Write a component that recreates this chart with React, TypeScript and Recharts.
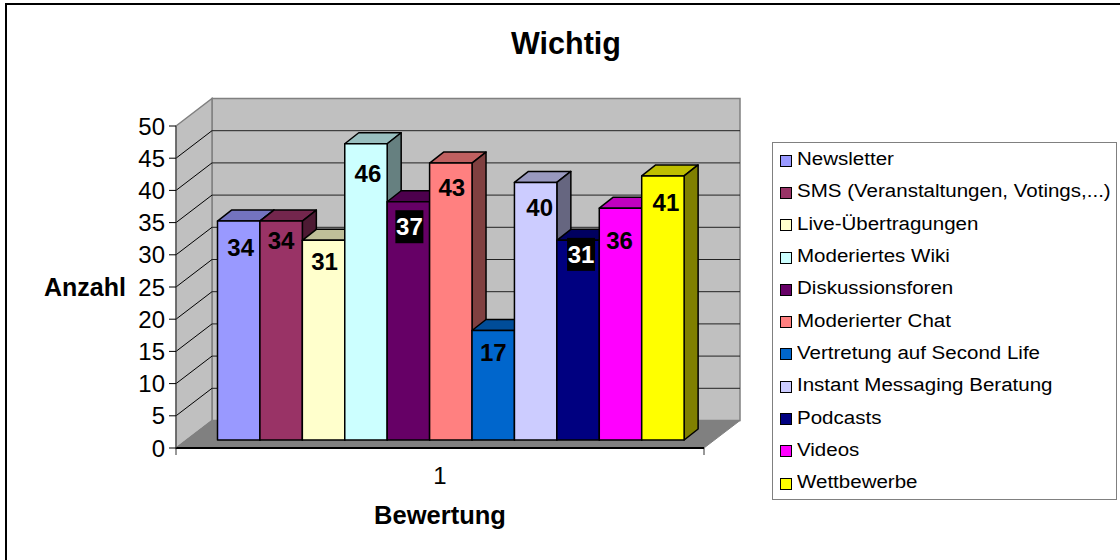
import { BarChart, Bar, XAxis, YAxis, CartesianGrid, Legend, LabelList, Label, ReferenceArea } from "recharts";

const categories = ["1"];
const seriesNames = [
  "Newsletter",
  "SMS (Veranstaltungen, Votings,...)",
  "Live-Übertragungen",
  "Moderiertes Wiki",
  "Diskussionsforen",
  "Moderierter Chat",
  "Vertretung auf Second Life",
  "Instant Messaging Beratung",
  "Podcasts",
  "Videos",
  "Wettbewerbe",
];
const seriesValues = [34, 34, 31, 46, 37, 43, 17, 40, 31, 36, 41];
const seriesColors = ["#9999FF", "#993366", "#FFFFCC", "#CCFFFF", "#660066", "#FF8080", "#0066CC", "#CCCCFF", "#000080", "#FF00FF", "#FFFF00"];
const yTicks = [0, 5, 10, 15, 20, 25, 30, 35, 40, 45, 50];

// Excel puts the labels a bit off centre, [dx, dy from bar top] per bar
const labelNudge = [
  [2, 26], [0, 19], [1, 21], [2, 30], [1, 25], [1, 24], [0, 22], [4, 25], [3, 14], [-1, 32], [3, 26],
];

const tableData = categories.map((name) => {
  const row: Record<string, any> = { name };
  seriesNames.forEach((s, i) => (row[s] = seriesValues[i]));
  return row;
});

const FONT = "'Liberation Sans', Arial, sans-serif";
const WALL = "#C0C0C0";
const FLOOR = "#808080";
const EDGE = "#808080";

// depth of the whole box, and where the bars sit inside it
const BOX_DX = 36;
const BOX_DY = -27.5;
const BAR_SHIFT_X = 10.5;
const BAR_SHIFT_Y = -8;
const BAR_DX = 14;
const BAR_DY = -11;

const shade = (hex: string, k: number) => {
  const n = parseInt(hex.slice(1), 16);
  const c = [(n >> 16) & 255, (n >> 8) & 255, n & 255].map((v) => Math.round(v * k));
  return `rgb(${c[0]},${c[1]},${c[2]})`;
};

const pts = (list: number[][]) => list.map((p) => p.join(",")).join(" ");

function Walls({ x, y, width, height }: any) {
  const b = y + height;
  const r = x + width;
  return (
    <g>
      <polygon points={pts([[x + BOX_DX, y + BOX_DY], [r + BOX_DX, y + BOX_DY], [r + BOX_DX, b + BOX_DY], [x + BOX_DX, b + BOX_DY]])} fill={WALL} stroke={EDGE} strokeWidth={1.5} />
      <polygon points={pts([[x, y], [x + BOX_DX, y + BOX_DY], [x + BOX_DX, b + BOX_DY], [x, b]])} fill={WALL} stroke={EDGE} strokeWidth={1.5} />
      <polygon points={pts([[x, b], [r, b], [r + BOX_DX, b + BOX_DY], [x + BOX_DX, b + BOX_DY]])} fill={FLOOR} stroke={EDGE} />
      <line x1={r} y1={b} x2={r} y2={b + 7} stroke="#333" />
      <line x1={x} y1={b} x2={x} y2={b + 7} stroke="#333" />
    </g>
  );
}

function GridLine({ x1, x2, y1 }: any) {
  if (y1 > 440 || y1 < 130) return <g />;
  return (
    <g>
      <line x1={x1} y1={y1} x2={x1 + BOX_DX} y2={y1 + BOX_DY} stroke="#000" />
      <line x1={x1 + BOX_DX} y1={y1 + BOX_DY} x2={x2 + BOX_DX} y2={y1 + BOX_DY} stroke="#222" />
    </g>
  );
}

function Bar3D({ x, y, width, height, fill }: any) {
  const l = x + BAR_SHIFT_X;
  const t = y + BAR_SHIFT_Y;
  const r = l + width;
  const b = t + height;
  return (
    <g stroke="#000" strokeWidth={1.5} strokeLinejoin="round">
      <polygon points={pts([[l, t], [l + BAR_DX, t + BAR_DY], [r + BAR_DX, t + BAR_DY], [r, t]])} fill={shade(fill, 0.75)} />
      <polygon points={pts([[r, t], [r + BAR_DX, t + BAR_DY], [r + BAR_DX, b + BAR_DY], [r, b]])} fill={shade(fill, 0.5)} />
      <rect x={l} y={t} width={width} height={height} fill={fill} />
    </g>
  );
}

const makeLabel = (i: number) => (props: any) => {
  const { x, y, width, value } = props;
  const cx = x + BAR_SHIFT_X + width / 2 + labelNudge[i][0];
  const cy = y + BAR_SHIFT_Y + labelNudge[i][1];
  const dark = i === 4 || i === 8;
  return (
    <g>
      {dark && <rect x={cx - 14} y={cy - 16.5} width={28} height={33} fill="#000" />}
      <text x={cx} y={cy} dy="0.36em" textAnchor="middle" fontFamily={FONT} fontWeight="bold" fontSize={24} fill={dark ? "#fff" : "#000"}>
        {value}
      </text>
    </g>
  );
};

function LegendBox({ payload }: any) {
  return (
    <div style={{ boxSizing: "border-box", width: 345, height: 358, border: "1.5px solid #808080", background: "#fff", padding: "0 0 0 7px", fontFamily: FONT, fontSize: 18, color: "#000" }}>
      {payload.map((p: any) => (
        <div key={p.value} style={{ height: 32.3, display: "flex", alignItems: "center", position: "relative", top: 0.5 }}>
          <span style={{ boxSizing: "border-box", width: 12, height: 12, border: "1.5px solid #000", background: p.color, marginRight: 5, position: "relative", top: 1 }} />
          {/* the original text is drawn wider than plain Arial */}
          <span style={{ whiteSpace: "nowrap", transform: "scaleX(1.14)", transformOrigin: "left center" }}>{p.value}</span>
        </div>
      ))}
    </div>
  );
}

export default function App() {
  return (
    <div style={{ position: "absolute", left: 0, top: 0, width: 1120, height: 560, overflow: "hidden", background: "#fff" }}>
      <div style={{ position: "absolute", left: 5, top: 3, width: 1200, height: 600, borderTop: "2px solid #000", borderLeft: "2px solid #000" }} />
      <BarChart
        width={1120}
        height={560}
        data={tableData}
        margin={{ top: 126, right: 416, bottom: 0, left: 0 }}
        barSize={42.42}
        barGap={0}
        style={{ position: "absolute", left: 0, top: 0 }}
      >
        <text x={566} y={54} textAnchor="middle" fontFamily={FONT} fontWeight="bold" fontSize={30.5}>Wichtig</text>
        <ReferenceArea y1={0} y2={50} ifOverflow="extendDomain" shape={Walls} zIndex={-150} />
        <CartesianGrid vertical={false} horizontal={GridLine} />
        <XAxis
          dataKey="name"
          height={112}
          axisLine={{ stroke: "#000", strokeWidth: 2 }}
          tickLine={false}
          tickMargin={13}
          tick={{ fontFamily: FONT, fontSize: 24, fill: "#000" }}
        >
          <Label value="Bewertung" position="insideBottom" offset={36} style={{ fontFamily: FONT, fontWeight: "bold", fontSize: 25.5, fill: "#000" }} />
        </XAxis>
        <YAxis
          width={176}
          domain={[0, 50]}
          ticks={yTicks}
          interval={0}
          axisLine={{ stroke: "#444" }}
          tickLine={{ stroke: "#000" }}
          tickSize={7}
          tickMargin={4}
          tick={{ fontFamily: FONT, fontSize: 24, fill: "#000" }}
        >
          <Label value="Anzahl" position="insideLeft" offset={44} style={{ fontFamily: FONT, fontWeight: "bold", fontSize: 25, fill: "#000" }} />
        </YAxis>
        {seriesNames.map((s, i) => (
          <Bar key={s} dataKey={s} name={s} fill={seriesColors[i]} shape={Bar3D} isAnimationActive={false}>
            <LabelList dataKey={s} content={makeLabel(i)} />
          </Bar>
        ))}
        <Legend
          layout="vertical"
          align="center"
          verticalAlign="middle"
          itemSorter={null}
          content={LegendBox}
          wrapperStyle={{ position: "absolute", left: 772, top: 142, width: 345, height: 358 }}
        />
      </BarChart>
    </div>
  );
}
